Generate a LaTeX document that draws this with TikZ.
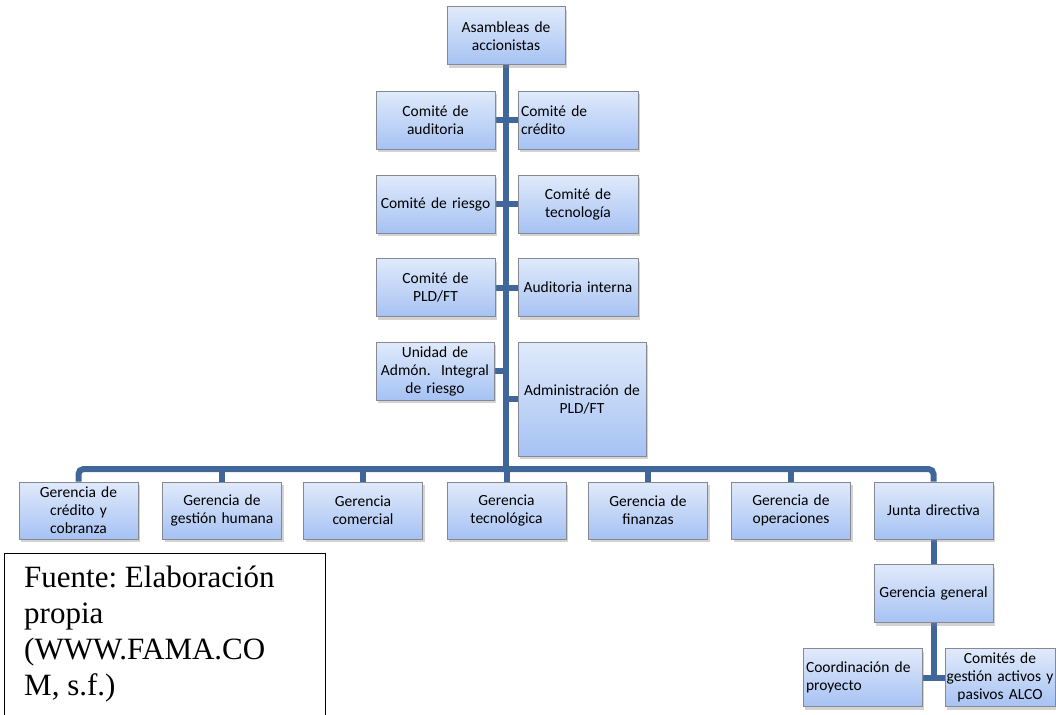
\documentclass[tikz,border=0pt]{standalone}
\usepackage{fontspec}
\setmainfont{Carlito}
\newfontfamily\fuentefont{Liberation Serif}
\usepackage{tikz}
\usetikzlibrary{shadows,backgrounds}

\definecolor{boxtop}{HTML}{E0EAFB}
\definecolor{boxbot}{HTML}{A6C2F3}
\definecolor{boxline}{HTML}{858A92}
\definecolor{linkblue}{HTML}{41679A}

\tikzset{
  box/.style={draw=boxline, line width=1pt, top color=boxtop, bottom color=boxbot,
    text width=113pt, minimum height=58pt, inner sep=3pt, align=center,
    font=\fontsize{15.5}{18}\selectfont,
    drop shadow={shadow xshift=2pt, shadow yshift=-3pt, opacity=0.35}},
  leftbox/.style={box, align=left},
  link/.style={draw=linkblue, line width=6pt}
}

\begin{document}
\frenchspacing
\begin{tikzpicture}[x=1pt, y=-1pt]
  \useasboundingbox (0,0) rectangle (1056,714);

  % trunk
  \node[box, text width=112pt] (asam) at (506,36) {Asambleas de\\accionistas};
  \coordinate (bus) at (506,469);

  % comites
  \node[box] (cau) at (435.5,120.5) {Comité de\\auditoria};
  \node[leftbox, text width=114pt] (ccr) at (578,120.5) {Comité de\\crédito};
  \node[box] (cri) at (435.5,204) {Comité de riesgo};
  \node[box, text width=114pt] (ctec) at (578,204) {Comité de\\tecnología};
  \node[box] (cpld) at (435.5,287.5) {Comité de\\PLD/FT};
  \node[box, text width=114pt] (aint) at (578,287.5) {Auditoria interna};
  \node[box, text width=112pt] (uai) at (435,371) {Unidad de\\Admón.\ \ Integral\\de riesgo};
  \node[box, text width=122pt, minimum height=114pt] (apld) at (582,399) {Administración de\\PLD/FT};

  % gerencias
  \node[box, minimum height=57pt] (gcc) at (78.5,510.5) {Gerencia de\\crédito y\\cobranza};
  \node[box, minimum height=57pt] (ggh) at (222,510.5) {Gerencia de\\gestión humana};
  \node[box, minimum height=57pt] (gcom) at (363,510.5) {Gerencia\\comercial};
  \node[box, minimum height=57pt] (gtec) at (506.5,510.5) {Gerencia\\tecnológica};
  \node[box, minimum height=57pt] (gfin) at (648,510.5) {Gerencia de\\finanzas};
  \node[box, minimum height=57pt] (gop) at (791,510.5) {Gerencia de\\operaciones};
  \node[box, minimum height=57pt] (jd) at (933.5,510.5) {Junta directiva};
  \node[box] (ggen) at (933.5,593.5) {Gerencia general};
  \node[leftbox] (coord) at (862.5,677.5) {Coordinación de\\proyecto};
  \node[box, text width=104pt] (alco) at (1000,677.5)
    {Comités de\\\makebox[104pt]{gestión activos y}\\pasivos ALCO};

  % conectores
  \begin{scope}[on background layer]
  \draw[link] (asam.south) -- (bus);
  \draw[link] (cau.east) -- (ccr.west);
  \draw[link] (cri.east) -- (ctec.west);
  \draw[link] (cpld.east) -- (aint.west);
  \draw[link] (uai.east) -- (uai.east -| bus);
  \draw[link] (apld.west) -- (apld.west -| bus);
  \draw[link, rounded corners=5pt] (gcc.north) |- (bus) -| (jd.north);
  \foreach \g in {ggh,gcom,gtec,gfin,gop}
    \draw[link] (\g.north) -- (\g.north |- bus);
  \draw[link] (jd) -- (ggen);
  \draw[link] (ggen.south) |- (coord.east);
  \draw[link] (coord.east) -- (alco.west);
  \end{scope}

  % fuente
  \draw[line width=1pt] (4,716) -- (4,553) -- (325,553) -- (325,716);
  \node[anchor=north west, align=left, inner sep=0pt,
    font=\fuentefont\fontsize{31}{36}\selectfont] (fuente) at (24,566)
    {Fuente: Elaboración\\propia\\(WWW.FAMA.CO\\M, s.f.)};
\end{tikzpicture}
\end{document}
